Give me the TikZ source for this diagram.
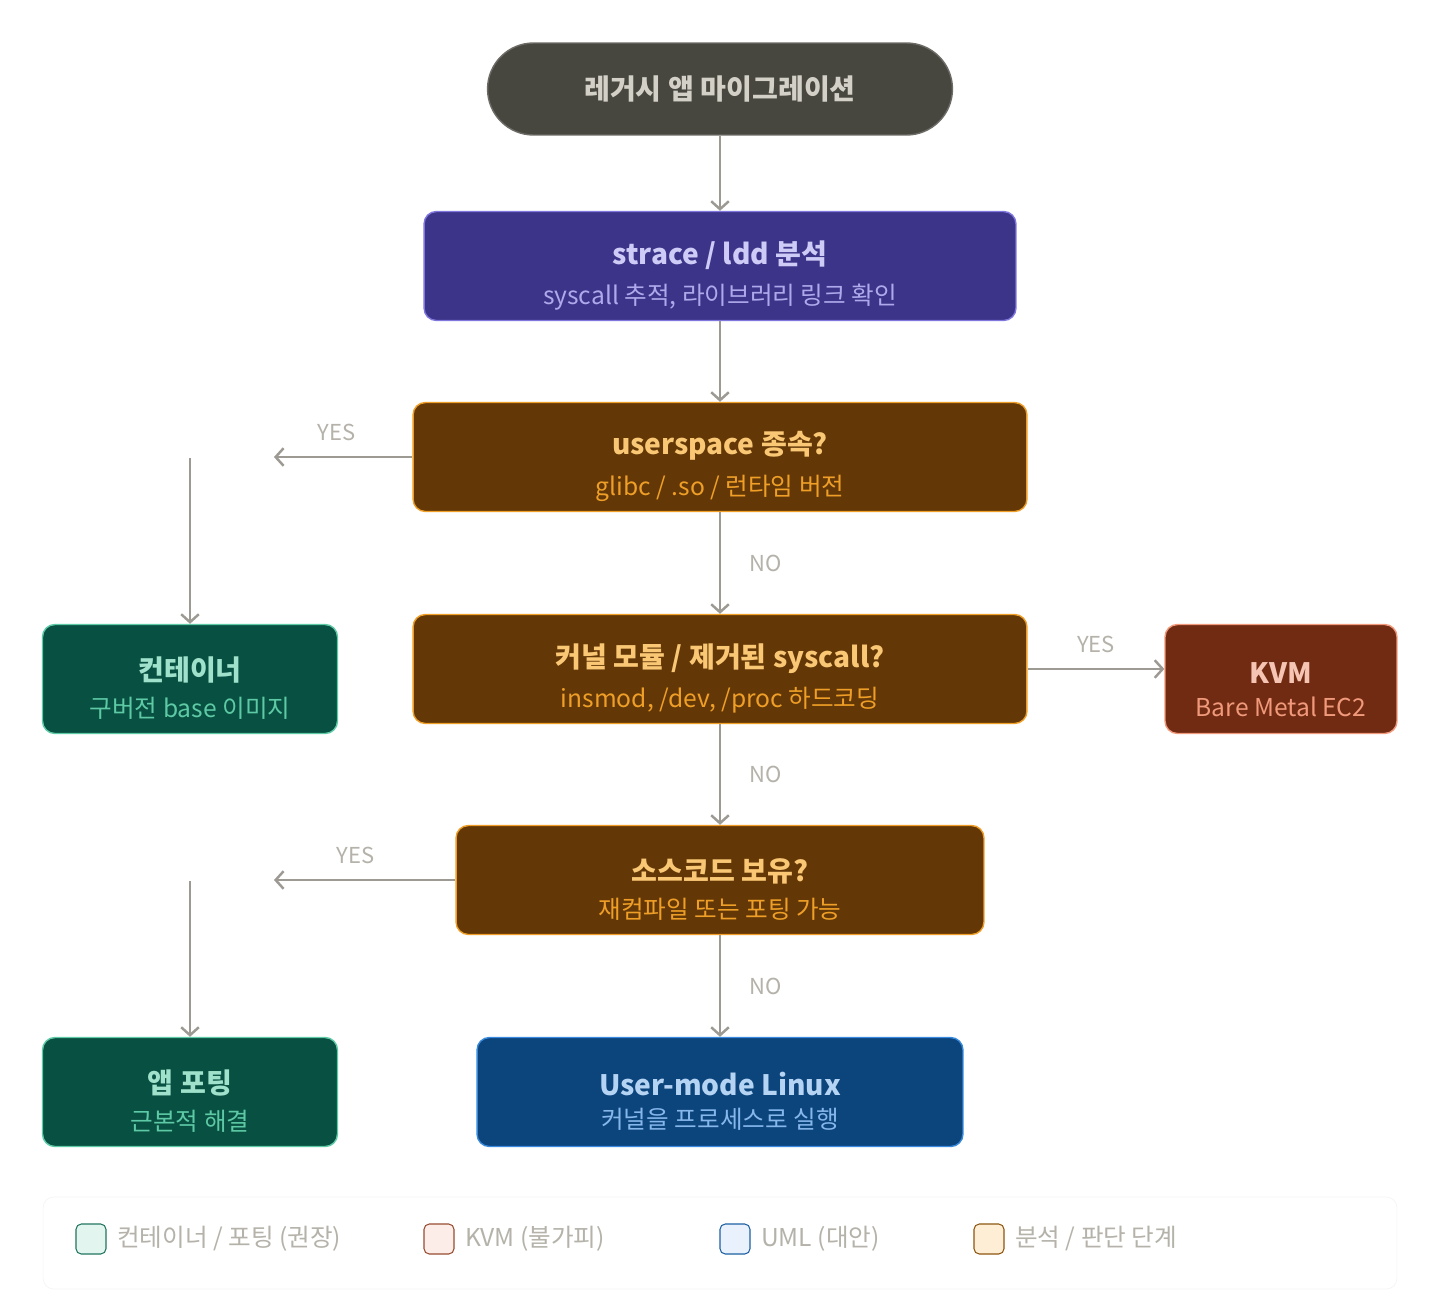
\documentclass[tikz,border=0pt]{standalone}
\usepackage{fontspec}
\setmainfont{Noto Sans CJK KR}
\usepackage{xcolor}
\usetikzlibrary{arrows.meta, positioning}
\definecolor{startfill}{HTML}{47463F}
\definecolor{starttext}{HTML}{D3D1C7}
\definecolor{flowgray}{HTML}{9C9A92}
\definecolor{labelgray}{HTML}{B4B2A9}
\definecolor{purfill}{HTML}{3C3489}
\definecolor{purline}{HTML}{7F77DD}
\definecolor{purtitle}{HTML}{CECBF6}
\definecolor{pursub}{HTML}{AFA9EC}
\definecolor{ambfill}{HTML}{633806}
\definecolor{ambline}{HTML}{EF9F27}
\definecolor{ambtitle}{HTML}{FAC775}
\definecolor{grnfill}{HTML}{085041}
\definecolor{grnline}{HTML}{5DCAA5}
\definecolor{grntitle}{HTML}{9FE1CB}
\definecolor{redfill}{HTML}{712B13}
\definecolor{redline}{HTML}{F0997B}
\definecolor{redtitle}{HTML}{F5C4B3}
\definecolor{bluefill}{HTML}{0C447C}
\definecolor{blueline}{HTML}{378ADD}
\definecolor{bluetitle}{HTML}{B5D4F4}
\definecolor{bluesub}{HTML}{85B7EB}
\newcommand{\stepText}[4]{{\fontsize{16}{19}\selectfont\bfseries\color{#1}\rule{0pt}{24pt}#2}\\[7pt]{\fontsize{14}{17}\selectfont\color{#3}#4}}

\begin{document}
\begin{tikzpicture}[x=0.02cm, y=-0.02cm,
    box/.style={rounded corners=7pt, line width=0.8pt, align=center, inner sep=0pt},
    flow/.style={flowgray, line width=1.4pt, -{Straight Barb[length=4.5pt,width=10pt]}},
    ans/.style={labelgray, font=\fontsize{12.5}{14}\selectfont},
    swatch/.style={rounded corners=3pt, line width=0.6pt, minimum width=0.6cm, minimum height=0.6cm, inner sep=0pt},
    legtext/.style={labelgray, font=\fontsize{14}{16}\selectfont, anchor=west}]
  \useasboundingbox[fill=white] (0,0) rectangle (1440,1312);

  % flow nodes
  \node[box, rounded corners=0.92cm, fill=startfill, draw=startfill!80!white, minimum width=9.3cm, minimum height=1.84cm,
        text=starttext, font=\fontsize{16}{19}\selectfont\bfseries] (start) at (720,89) {레거시 앱 마이그레이션};
  \node[box, fill=purfill, draw=purline, minimum width=11.84cm, minimum height=2.18cm] (trace) at (720,266)
    {\stepText{purtitle}{strace / ldd 분석}{pursub}{syscall 추적, 라이브러리 링크 확인}};
  \node[box, fill=ambfill, draw=ambline, minimum width=12.28cm, minimum height=2.18cm] (userq) at (720,457)
    {\stepText{ambtitle}{userspace 종속?}{ambline}{glibc / .so / 런타임 버전}};
  \node[box, fill=ambfill, draw=ambline, minimum width=12.28cm, minimum height=2.18cm] (kernq) at (720,669)
    {\stepText{ambtitle}{커널 모듈 / 제거된 syscall?}{ambline}{insmod, /dev, /proc 하드코딩}};
  \node[box, fill=ambfill, draw=ambline, minimum width=10.56cm, minimum height=2.18cm] (srcq) at (720,880)
    {\stepText{ambtitle}{소스코드 보유?}{ambline}{재컴파일 또는 포팅 가능}};
  \node[box, fill=bluefill, draw=blueline, minimum width=9.72cm, minimum height=2.18cm] (uml) at (720,1092)
    {\stepText{bluetitle}{User-mode Linux}{bluesub}{커널을 프로세스로 실행}};
  \node[box, fill=grnfill, draw=grnline, minimum width=5.9cm, minimum height=2.18cm] (cont) at (190,679)
    {\stepText{grntitle}{컨테이너}{grnline}{구버전 base 이미지}};
  \node[box, fill=grnfill, draw=grnline, minimum width=5.9cm, minimum height=2.18cm] (port) at (190,1092)
    {\stepText{grntitle}{앱 포팅}{grnline}{근본적 해결}};
  \node[box, fill=redfill, draw=redline, minimum width=4.64cm, minimum height=2.18cm] (kvm) at (1281,679)
    {\stepText{redtitle}{KVM}{redline}{Bare Metal EC2}};

  % connectors
  \coordinate (userYes) at (274,457);
  \coordinate (userDrop) at (190,458);
  \coordinate (srcYes) at (274,880);
  \coordinate (srcDrop) at (190,881);
  \draw[flow] (start) -- (trace);
  \draw[flow] (trace) -- (userq);
  \draw[flow] (userq.west) -- node[ans, above=5pt, pos=0.55] (yes1) {YES} (userYes);
  \draw[flow] (userDrop) -- (cont);
  \draw[flow] (userq) -- node[ans, right=13pt] (no1) {NO} (kernq);
  \draw[flow] (kernq.east) -- node[ans, above=5pt] (yes2) {YES} (kernq.east -| kvm.west);
  \draw[flow] (kernq) -- node[ans, right=13pt] (no2) {NO} (srcq);
  \draw[flow] (srcq.west) -- node[ans, above=5pt, pos=0.55] (yes3) {YES} (srcYes);
  \draw[flow] (srcDrop) -- (port);
  \draw[flow] (srcq) -- node[ans, right=13pt] (no3) {NO} (uml);

  % legend
  \node[draw=black!4, fill=white, rounded corners=6pt, minimum width=27.08cm, minimum height=1.84cm, inner sep=0pt] (legend) at (720,1243) {};
  \node[swatch, fill=grntitle!30!white, draw=grnfill!70!grnline] (sw1) at (91,1239) {};
  \node[legtext] (lg1) at (111,1239) {컨테이너 / 포팅 (권장)};
  \node[swatch, fill=redtitle!30!white, draw=redfill!70!redline] (sw2) at (439,1239) {};
  \node[legtext] (lg2) at (459,1239) {KVM (불가피)};
  \node[swatch, fill=bluetitle!30!white, draw=bluefill!60!blueline] (sw3) at (735,1239) {};
  \node[legtext] (lg3) at (755,1239) {UML (대안)};
  \node[swatch, fill=ambtitle!30!white, draw=ambfill!70!ambline] (sw4) at (989,1239) {};
  \node[legtext] (lg4) at (1009,1239) {분석 / 판단 단계};
\end{tikzpicture}
\end{document}
